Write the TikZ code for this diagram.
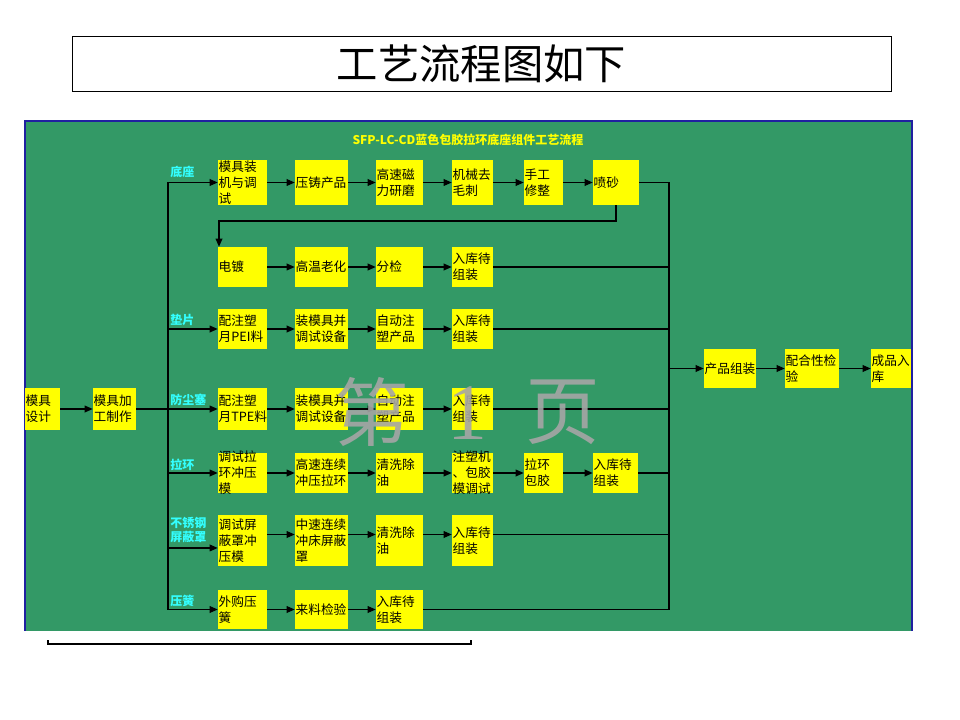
\documentclass[tikz,border=0pt]{standalone}
\usepackage{fontspec}
\setmainfont{Noto Sans CJK SC}
\newfontfamily\serifone{Liberation Serif}
\usetikzlibrary{arrows.meta}
\definecolor{bggreen}{HTML}{339966}
\definecolor{boxyellow}{HTML}{FFFF00}
\definecolor{lblcyan}{HTML}{33FFFF}
\definecolor{borderblue}{HTML}{2020A0}
\definecolor{wmgray}{HTML}{A6A6A6}
\newcommand\flowbox[6]{%
  \pgfmathsetmacro\fbw{(#4-#2)*0.75-1}%
  \pgfmathsetmacro\fbh{(#5-#3)*0.75}%
  \node[box] (#1) at ({(#2+#4)/2},{(#3+#5)/2}) {\parbox[c][\fbh pt][c]{\fbw pt}{\raggedright #6}};}
\begin{document}
\begin{tikzpicture}[x=0.75pt,y=-0.75pt,
  box/.style={fill=boxyellow, draw=none, inner xsep=0.5pt, inner ysep=0pt, font=\fontsize{9.5}{12}\selectfont, text=black},
  lbl/.style={text=lblcyan, font=\bfseries\fontsize{9}{11}\selectfont, inner sep=0pt, anchor=west, align=left},
  ln/.style={line width=0.9pt, draw=black},
  arr/.style={ln, -{Triangle[length=6pt,width=5pt]}},
  wm/.style={text=wmgray, opacity=0.9, inner sep=0pt, font=\fontsize{56}{60}\selectfont}]
\fill[white] (0,0) rectangle (960,720);
\useasboundingbox (0,0) rectangle (960,720);

% title
\node[draw=black, line width=0.6pt, minimum width=614.25pt, minimum height=41.25pt, inner sep=0pt,
      font=\fontsize{31}{34}\selectfont] (title) at (481.5,63.5) {工艺流程图如下};

% green panel
\fill[bggreen] (25,121) rectangle (912,631);
\draw[borderblue, line width=1.5pt] (25,631) -- (25,121) -- (912,121) -- (912,631);
\node[text=boxyellow, font=\bfseries\fontsize{9}{10}\selectfont, inner sep=0pt] (hdr) at (468,140) {SFP-LC-CD蓝色包胶拉环底座组件工艺流程};

% left boxes
\flowbox{mjsj}{25}{388}{60}{430}{模具\\设计}
\flowbox{mjjg}{93}{388}{136}{430}{模具加\\工制作}

% row 1
\flowbox{r1a}{218}{160}{267}{205}{模具装\\机与调\\试}
\flowbox{r1b}{295}{160}{348}{205}{压铸产品}
\flowbox{r1c}{376}{160}{423}{205}{高速磁\\力研磨}
\flowbox{r1d}{452}{160}{493}{205}{机械去\\毛刺}
\flowbox{r1e}{524}{160}{563}{205}{手工\\修整}
\flowbox{r1f}{593}{160}{639}{205}{喷砂}
% row 2
\flowbox{r2a}{218}{247}{267}{287}{电镀}
\flowbox{r2b}{295}{247}{348}{287}{高温老化}
\flowbox{r2c}{376}{247}{423}{287}{分检}
\flowbox{r2d}{452}{247}{493}{287}{入库待\\组装}
% row 3
\flowbox{r3a}{218}{309}{267}{349}{配注塑\\月PEI料}
\flowbox{r3b}{295}{309}{348}{349}{装模具并\\调试设备}
\flowbox{r3c}{376}{309}{423}{349}{自动注\\塑产品}
\flowbox{r3d}{452}{309}{493}{349}{入库待\\组装}
% row 4
\flowbox{r4a}{218}{388}{267}{430}{配注塑\\月TPE料}
\flowbox{r4b}{295}{388}{348}{430}{装模具并\\调试设备}
\flowbox{r4c}{376}{388}{423}{430}{自动注\\塑产品}
\flowbox{r4d}{452}{388}{493}{430}{入库待\\组装}
% row 5
\flowbox{r5a}{218}{453}{267}{493}{调试拉\\环冲压\\模}
\flowbox{r5b}{295}{453}{348}{493}{高速连续\\冲压拉环}
\flowbox{r5c}{376}{453}{423}{493}{清洗除\\油}
\flowbox{r5d}{452}{453}{493}{493}{注塑机\\、包胶\\模调试}
\flowbox{r5e}{524}{453}{563}{493}{拉环\\包胶}
\flowbox{r5f}{593}{453}{638}{493}{入库待\\组装}
% row 6
\flowbox{r6a}{218}{515}{267}{566}{调试屏\\蔽罩冲\\压模}
\flowbox{r6b}{295}{515}{348}{566}{中速连续\\冲床屏蔽\\罩}
\flowbox{r6c}{376}{515}{423}{566}{清洗除\\油}
\flowbox{r6d}{452}{515}{493}{566}{入库待\\组装}
% row 7
\flowbox{r7a}{218}{590}{267}{629}{外购压\\簧}
\flowbox{r7b}{295}{590}{348}{629}{来料检验}
\flowbox{r7c}{376}{590}{423}{629}{入库待\\组装}
% right
\flowbox{cpzz}{704}{349}{756}{388}{产品组装}
\flowbox{phx}{785}{349}{839}{388}{配合性检\\验}
\flowbox{cprk}{871}{349}{911}{388}{成品入\\库}

% labels
\node[lbl] (l1) at (170,172) {底座};
\node[lbl] (l2) at (170,320) {垫片};
\node[lbl] (l3) at (170,400) {防尘塞};
\node[lbl] (l4) at (170,465) {拉环};
\node[lbl] (l5) at (170,530) {不锈钢\\屏蔽罩};
\node[lbl] (l6) at (170,601) {压簧};

% buses
\coordinate (busx) at (168,182);
\coordinate (colx) at (669,182);
\coordinate (fb) at (219,221);
\coordinate (r6in) at ([yshift=-5.6pt]r6a.west);

\draw[arr] (mjsj) -- (mjjg);
\draw[ln] (mjjg.east) -- (mjjg.east -| busx);
\draw[ln] (r1a.west -| busx) -- (r7a.west -| busx);
\draw[arr] (r1a.west -| busx) -- (r1a.west);
\draw[arr] (r3a.west -| busx) -- (r3a.west);
\draw[arr] (r4a.west -| busx) -- (r4a.west);
\draw[arr] (r5a.west -| busx) -- (r5a.west);
\draw[arr] (r6in -| busx) -- (r6in);
\draw[arr] (r7a.west -| busx) -- (r7a.west);

% row connectors
\draw[arr] (r1a) -- (r1b);
\draw[arr] (r1b) -- (r1c);
\draw[arr] (r1c) -- (r1d);
\draw[arr] (r1d) -- (r1e);
\draw[arr] (r1e) -- (r1f);
\draw[arr] (r1f.south) |- (fb) -- (fb |- r2a.north);
\draw[arr] (r2a) -- (r2b);
\draw[arr] (r2b) -- (r2c);
\draw[arr] (r2c) -- (r2d);
\draw[arr] (r3a) -- (r3b);
\draw[arr] (r3b) -- (r3c);
\draw[arr] (r3c) -- (r3d);
\draw[arr] (r4a) -- (r4b);
\draw[arr] (r4b) -- (r4c);
\draw[arr] (r4c) -- (r4d);
\draw[arr] (r5a) -- (r5b);
\draw[arr] (r5b) -- (r5c);
\draw[arr] (r5c) -- (r5d);
\draw[arr] (r5d) -- (r5e);
\draw[arr] (r5e) -- (r5f);
\draw[arr] ([yshift=4.5pt]r6a.east) -- ([yshift=4.5pt]r6b.west);
\draw[arr] ([yshift=4.5pt]r6b.east) -- ([yshift=4.5pt]r6c.west);
\draw[arr] ([yshift=4.5pt]r6c.east) -- ([yshift=4.5pt]r6d.west);
\draw[arr] (r7a) -- (r7b);
\draw[arr] (r7b) -- (r7c);

% collector
\draw[ln] (r1f.east -| colx) -- (r7c.east -| colx);
\draw[ln] (r1f.east) -- (r1f.east -| colx);
\draw[ln] (r2d.east) -- (r2d.east -| colx);
\draw[ln] (r3d.east) -- (r3d.east -| colx);
\draw[ln] (r4d.east) -- (r4d.east -| colx);
\draw[ln] (r5f.east) -- (r5f.east -| colx);
\draw[ln] ([yshift=4.5pt]r6d.east) -- ([yshift=4.5pt]r6d.east -| colx);
\draw[ln] (r7c.east) -- (r7c.east -| colx);
\draw[arr] (cpzz.west -| colx) -- (cpzz.west);
\draw[arr] (cpzz) -- (phx);
\draw[arr] (phx) -- (cprk);

% watermark
\node[wm] (wm1) at (372,412) {第};
\node[wm, font=\serifone\fontsize{60}{62}\selectfont] (wm2) at (467,413) {1};
\node[wm] (wm3) at (563,412) {页};

% bottom bracket
\draw[line width=0.9pt] (48,640) -- (48,644) -- (471,644) -- (471,640);
\end{tikzpicture}
\end{document}
